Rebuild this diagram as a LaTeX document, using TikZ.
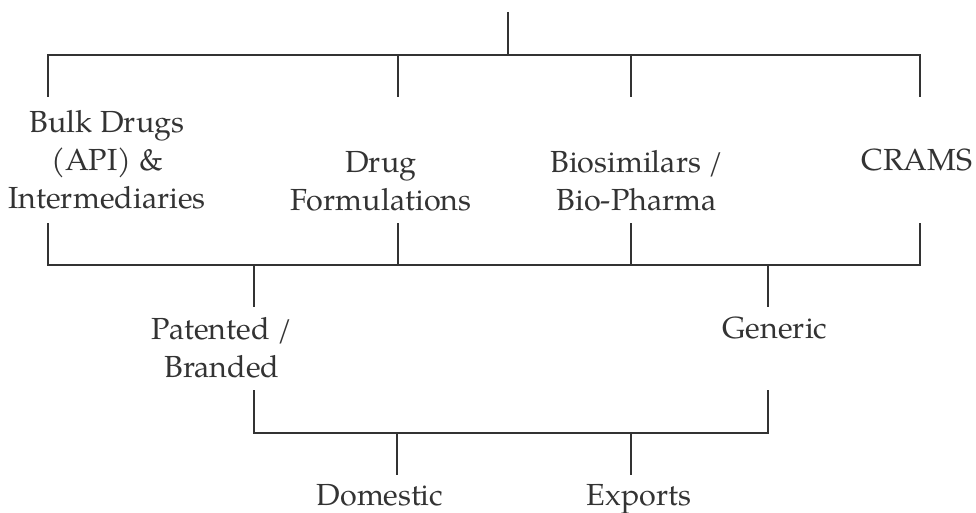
\documentclass[tikz,border=0pt]{standalone}
\usepackage{fontspec}
\setmainfont{texgyrepagella}[Extension=.otf,UprightFont=*-regular,BoldFont=*-bold,ItalicFont=*-italic,BoldItalicFont=*-bolditalic]
\definecolor{ink}{HTML}{333333}
\begin{document}
\begin{tikzpicture}[x=1pt,y=-1pt,
  conn/.style={draw=ink,line width=2.4pt},
  lbl/.style={text=ink,align=center,inner sep=0pt,font=\fontsize{30.5}{38}\selectfont}]
\useasboundingbox (0,0) rectangle (976,513);
% labels
\node[lbl] (bulk) at (107,160) {Bulk Drugs\\(API) \&\\Intermediaries};
\node[lbl] (form) at (381,181.5) {Drug\\Formulations};
\node[lbl] (bios) at (637,180.5) {Biosimilars /\\Bio-Pharma};
\node[lbl,anchor=base] (crams) at (917,171) {CRAMS};
\node[lbl] (pat) at (222,348) {Patented /\\Branded};
\node[lbl,anchor=base] (gen) at (775,338) {Generic};
\node[lbl,anchor=base] (dom) at (380,505) {Domestic};
\node[lbl,anchor=base] (exp) at (639,505) {Exports};
% coordinates
\coordinate (root) at (508,12);
\coordinate (j1) at (508,55);
\coordinate (a1) at (48,55);  \coordinate (a1e) at (48,97);
\coordinate (b1) at (398,55); \coordinate (b1e) at (398,97);
\coordinate (c1) at (631,55); \coordinate (c1e) at (631,97);
\coordinate (d1) at (920,55); \coordinate (d1e) at (920,97);
\coordinate (a2s) at (48,223);  \coordinate (a2) at (48,265);
\coordinate (b2s) at (398,223); \coordinate (b2) at (398,265);
\coordinate (c2s) at (631,223); \coordinate (c2) at (631,265);
\coordinate (d2s) at (920,223); \coordinate (d2) at (920,265);
\coordinate (p2) at (254,265); \coordinate (p2e) at (254,307);
\coordinate (g2) at (768,265); \coordinate (g2e) at (768,307);
\coordinate (p3s) at (254,390); \coordinate (p3) at (254,433);
\coordinate (g3s) at (768,390); \coordinate (g3) at (768,433);
\coordinate (m3) at (397,433); \coordinate (m3e) at (397,475);
\coordinate (x3) at (631,433); \coordinate (x3e) at (631,475);
% connectors
\draw[conn] (root) -- (j1);
\draw[conn] (a1e) -- (a1) -- (d1) -- (d1e);
\draw[conn] (b1) -- (b1e);
\draw[conn] (c1) -- (c1e);
\draw[conn] (a2s) -- (a2) -- (d2) -- (d2s);
\draw[conn] (b2s) -- (b2);
\draw[conn] (c2s) -- (c2);
\draw[conn] (p2) -- (p2e);
\draw[conn] (g2) -- (g2e);
\draw[conn] (p3s) -- (p3) -- (g3) -- (g3s);
\draw[conn] (m3) -- (m3e);
\draw[conn] (x3) -- (x3e);
\end{tikzpicture}
\end{document}
